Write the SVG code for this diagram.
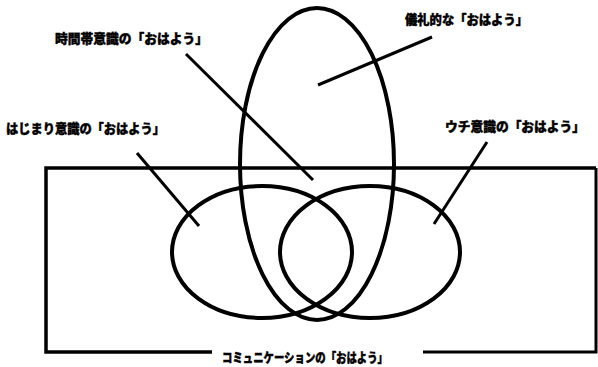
<svg xmlns="http://www.w3.org/2000/svg" width="598" height="367" viewBox="0 0 598 367">
<style>
.t{font-family:"Noto Sans CJK JP","Noto Sans CJK SC",sans-serif;font-weight:900;font-size:13px;fill:#000;stroke:#000;stroke-width:0.4}
.e{fill:none;stroke:#000;stroke-width:4}
.l{stroke:#000;stroke-width:3;fill:none}
.r{fill:none;stroke:#000;stroke-width:3.5}
</style>
<rect width="598" height="367" fill="#fff"/>
<g id="frame">
<path class="r" d="M212 352 H46 V168 H596"/>
<path class="l" d="M596 168 V352 H423" stroke-width="2.5"/>
<text class="t" x="222" y="362" textLength="166" lengthAdjust="spacingAndGlyphs">コミュニケーションの「おはよう」</text>
</g>
<g id="tall">
<ellipse class="e" cx="317" cy="164" rx="77" ry="156"/>
</g>
<g id="left">
<ellipse class="e" cx="262" cy="252" rx="90" ry="66"/>
</g>
<g id="right">
<ellipse class="e" cx="370" cy="252" rx="90" ry="66"/>
</g>
<g id="label-jikan"><text class="t" x="55" y="43" textLength="153" lengthAdjust="spacingAndGlyphs">時間帯意識の「おはよう」</text></g>
<g id="label-girei"><text class="t" x="405" y="24" textLength="123" lengthAdjust="spacingAndGlyphs">儀礼的な「おはよう」</text></g>
<g id="label-hajimari"><text class="t" x="6" y="133" textLength="159" lengthAdjust="spacingAndGlyphs">はじまり意識の「おはよう」</text></g>
<g id="label-uchi"><text class="t" x="445" y="131" textLength="140" lengthAdjust="spacingAndGlyphs">ウチ意識の「おはよう」</text></g>
<g id="connectors">
<line class="l" x1="186" y1="54" x2="313" y2="180"/>
<line class="l" x1="432" y1="37" x2="318" y2="85"/>
<line class="l" x1="137" y1="153" x2="199" y2="226"/>
<line class="l" x1="487" y1="142" x2="434" y2="224"/>
</g>
</svg>
